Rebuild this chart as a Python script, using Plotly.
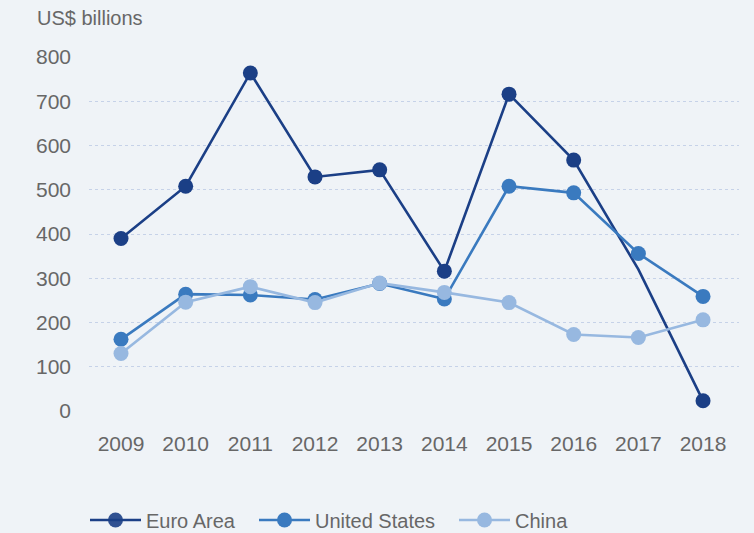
import plotly.graph_objects as go

years = [2009, 2010, 2011, 2012, 2013, 2014, 2015, 2016, 2017, 2018]
euro_area = [390, 508, 764, 529, 545, 316, 716, 567, 320, 23]
united_states = [162, 264, 262, 252, 288, 253, 508, 493, 356, 259]
china = [130, 246, 281, 245, 289, 268, 245, 173, 166, 206]
y_ticks = [0, 100, 200, 300, 400, 500, 600, 700, 800]

euro_marker_opacity = [1, 1, 1, 1, 1, 1, 1, 1, 0, 1]

FONT = "Liberation Sans, Arial, sans-serif"
GRAY = "#676767"

fig = go.Figure()
fig.add_trace(go.Scatter(
    x=years, y=euro_area, name="Euro Area", mode="lines+markers",
    line=dict(color="#1b3f86", width=2.6),
    marker=dict(size=15, color="#1b3f86", opacity=euro_marker_opacity),
    cliponaxis=False, legend="legend",
))
fig.add_trace(go.Scatter(
    x=years, y=united_states, name="United States", mode="lines+markers",
    line=dict(color="#3a7abf", width=2.6),
    marker=dict(size=15, color="#3a7abf"),
    cliponaxis=False, legend="legend2",
))
fig.add_trace(go.Scatter(
    x=years, y=china, name="China", mode="lines+markers",
    line=dict(color="#97b8e0", width=2.6),
    marker=dict(size=15, color="#97b8e0"),
    cliponaxis=False, legend="legend3",
))


def legend_at(px):
    return dict(
        orientation="h", x=(px - 89) / 650, xanchor="left",
        yref="container", y=1 - 520 / 533, yanchor="middle",
        font=dict(family=FONT, size=20, color=GRAY),
        bgcolor="rgba(0,0,0,0)", itemwidth=51,
    )


fig.update_layout(
    width=754, height=533,
    paper_bgcolor="#eff3f7", plot_bgcolor="#eff3f7",
    margin=dict(l=89, r=15, t=57, b=122, autoexpand=False),
    font=dict(family=FONT, size=20, color=GRAY),
    showlegend=True,
    legend=legend_at(85),
    legend2=legend_at(254),
    legend3=legend_at(454),
    xaxis=dict(
        range=[2008.505, 2018.556], tickmode="array", tickvals=years,
        ticktext=[str(y) for y in years], showgrid=False, zeroline=False,
        showline=False, ticks="", ticklabelstandoff=18, automargin=False,
        tickfont=dict(family=FONT, size=21, color=GRAY),
    ),
    yaxis=dict(
        range=[0, 800], tickmode="array", tickvals=y_ticks,
        showgrid=True, gridcolor="#c6d2e8", griddash="dot", gridwidth=1,
        zeroline=False, showline=False, ticks="", ticklabelstandoff=17,
        automargin=False,
        tickfont=dict(family=FONT, size=21, color=GRAY),
    ),
    annotations=[dict(
        text="US$ billions", xref="paper", yref="paper",
        x=-89/650, xanchor="left", xshift=35, y=1, yanchor="bottom", yshift=26,
        showarrow=False, font=dict(family=FONT, size=20, color=GRAY),
    )],
)

fig.write_html(
    "out.html",
    config={"displayModeBar": False},
    post_script="document.body.style.margin='0';document.body.style.background='#eff3f7';",
)
